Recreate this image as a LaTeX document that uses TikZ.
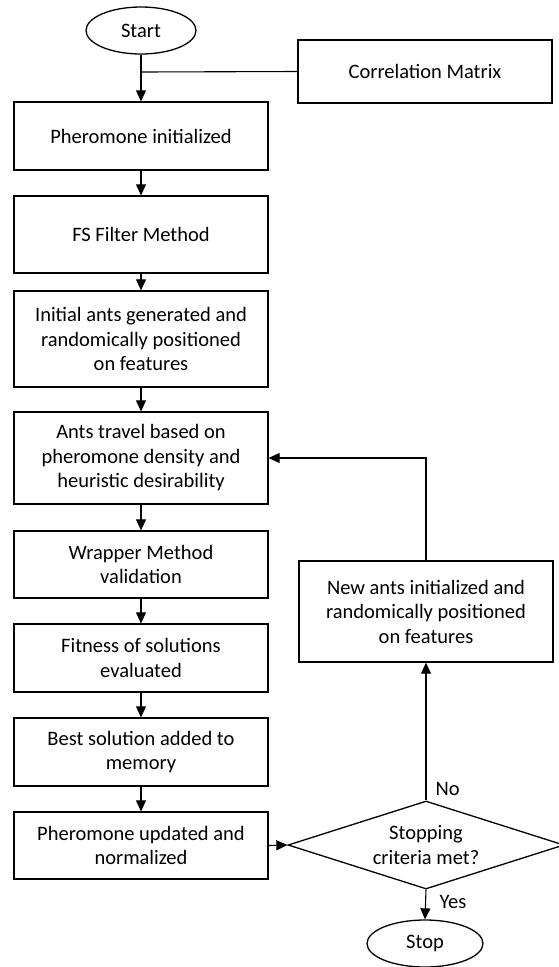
\documentclass[tikz,border=0pt]{standalone}
\usepackage{fontspec}
\setmainfont{Carlito}
\usetikzlibrary{arrows.meta,shapes.geometric}
\begin{document}
\begin{tikzpicture}[x=1pt, y=-1pt, >={Triangle[length=11pt,width=10pt]},
    txt/.style={font=\fontsize{20.5}{24.5}\selectfont},
    box/.style={txt, draw, line width=1.3pt, minimum width=254pt, align=center, inner sep=0pt},
    term/.style={txt, draw, ellipse, line width=1.3pt, inner sep=0pt},
    decision/.style={txt, draw, diamond, aspect=3.1, line width=1.3pt, minimum width=276pt, minimum height=88pt, align=center, inner sep=0pt},
    link/.style={line width=1.1pt}]
        \useasboundingbox (0,0) rectangle (558,967);

        % Terminals
        \node[term, minimum width=110pt, minimum height=47pt] (start) at (141,30.5) {Start};
        \node[term, minimum width=116pt, minimum height=47pt] (stop) at (425,943.5) {Stop};

        % Main column
        \node[box, minimum height=68pt] (init) at (141,136) {Pheromone initialized};
        \node[box, minimum height=77pt] (fs) at (141,234.5) {FS Filter Method};
        \node[box, minimum height=96pt] (gen) at (141,339) {Initial ants generated and\\randomically positioned\\on features};
        \node[box, minimum height=92pt] (travel) at (141,458) {Ants travel based on\\pheromone density and\\heuristic desirability};
        \node[box, minimum height=67pt] (wrap) at (141,564.5) {Wrapper Method\\validation};
        \node[box, minimum height=68pt] (fit) at (141,658) {Fitness of solutions\\evaluated};
        \node[box, minimum height=68pt] (best) at (141,752) {Best solution added to\\memory};
        \node[box, minimum height=67pt] (upd) at (141,845.5) {Pheromone updated and\\normalized};

        % Right side
        \node[box, minimum height=63pt] (corr) at (425,71.5) {Correlation Matrix};
        \node[box, minimum height=101pt] (newants) at (426,611.5) {New ants initialized and\\randomically positioned\\on features};
        \node[decision] (crit) at (426,845) {Stopping\\criteria met?};

        % Labels
        \node[txt, anchor=west] (nolbl) at (432,789) {No};
        \node[txt, anchor=west] (yeslbl) at (436,902) {Yes};

        % Arrows
        \coordinate (join) at (141,72);
        \draw[link] (corr.west) -- (join);
        \draw[link, ->] (start) -- (init);
        \draw[link, ->] (init) -- (fs);
        \draw[link, ->] (fs) -- (gen);
        \draw[link, ->] (gen) -- (travel);
        \draw[link, ->] (travel) -- (wrap);
        \draw[link, ->] (wrap) -- (fit);
        \draw[link, ->] (fit) -- (best);
        \draw[link, ->] (best) -- (upd);
        \draw[link, ->] (upd.east) -- (crit.west);
        \draw[link, ->] (crit.north) -- (newants.south);
        \draw[link, ->] (newants.north) |- (travel.east);
        \draw[link, ->] (crit.south) -- (stop.north);
    \end{tikzpicture}
\end{document}
